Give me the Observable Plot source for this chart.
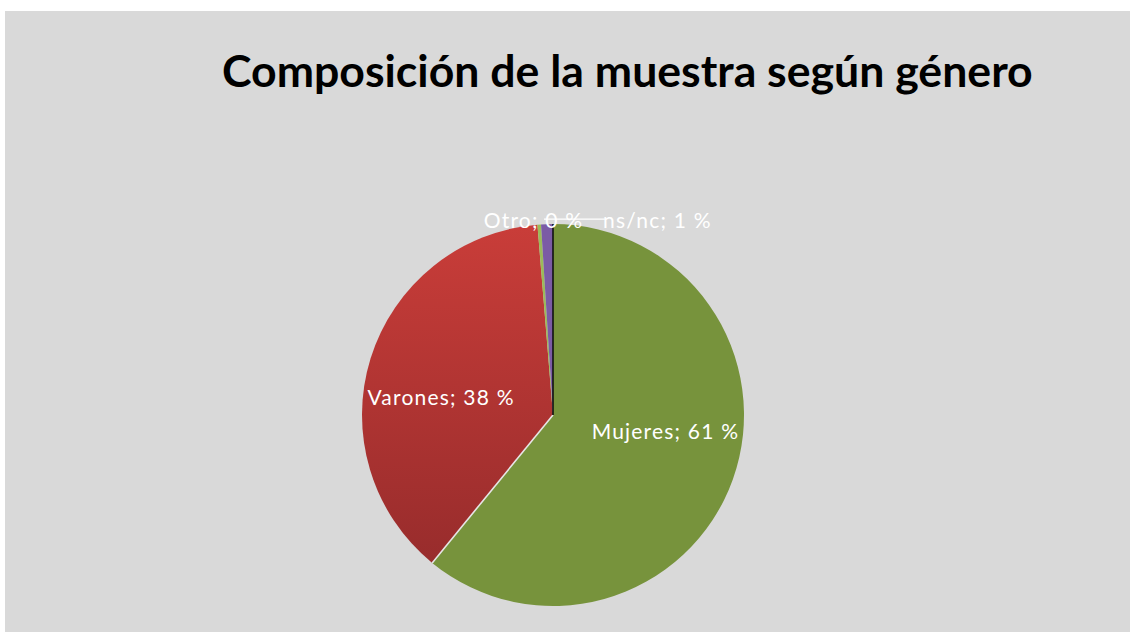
<!DOCTYPE html>
<html>
<head>
<meta charset="utf-8">
<script src="https://cdn.jsdelivr.net/npm/d3@7"></script>
<script src="https://cdn.jsdelivr.net/npm/@observablehq/plot@0.6"></script>
<style>
  html, body { margin: 0; padding: 0; background: #ffffff; }
  #frame { position: absolute; left: 5px; top: 11px; width: 1125px; height: 621px; background: #d9d9d9; overflow: hidden; }
  #title { position: absolute; left: 0; top: 0; width: 1125px; text-align: left; padding-left: 217px; box-sizing: border-box;
           font-family: Lato, "Open Sans", sans-serif; font-weight: bold; font-size: 44.6px; line-height: 1; color: #000;
           margin-top: 37px; white-space: nowrap; }
  #chart { position: absolute; left: 0; top: 0; }
</style>
</head>
<body>
<div id="frame">
  <div id="chart"></div>
  <div id="title">Composición de la muestra según género</div>
</div>
<script>
// Data
const categories = ["Mujeres", "Varones", "Otro", "ns/nc"];
const values = [60.9, 37.8, 0.3, 1.0];
const labelTexts = ["Mujeres; 61 %", "Varones; 38 %", "Otro; 0 %", "ns/nc; 1 %"];
const colors = ["#77933c", "url(#redgrad)", "#9bbb59", "#7b5ba5"];
// label placement: polar radius (fraction of pie radius) and pixel nudges
const labelRadius = [0.6, 0.6, 1.02, 1.02];
const labelNudge = [[4, -22], [-3, 17], [-6, 0], [110, 0]];

const table = categories.map((c, i) => ({category: c, value: values[i], label: labelTexts[i], color: colors[i]}));
const arcs = d3.pie().sort(null).value(d => d.value)(table);
arcs.forEach((a, i) => {
  const mid = (a.startAngle + a.endAngle) / 2;
  a.lx = Math.sin(mid) * labelRadius[i];
  a.ly = Math.cos(mid) * labelRadius[i];
  a.dx = labelNudge[i][0];
  a.dy = labelNudge[i][1];
});

function pieMark(index, scales) {
  const cx = scales.x(0), cy = scales.y(0), r = scales.x(1) - scales.x(0);
  const g = d3.create("svg:g");
  const defs = g.append("defs");
  const grad = defs.append("linearGradient").attr("id", "redgrad")
    .attr("x1", 0).attr("y1", 0).attr("x2", 0).attr("y2", 1);
  grad.append("stop").attr("offset", "0%").attr("stop-color", "#c93d39");
  grad.append("stop").attr("offset", "100%").attr("stop-color", "#982c2c");
  const arc = d3.arc().innerRadius(0).outerRadius(r);
  const gg = g.append("g").attr("transform", `translate(${cx},${cy})`);
  gg.selectAll("path").data(arcs).join("path")
    .attr("d", arc)
    .attr("fill", d => d.data.color);
  // radial separators
  const edge = (ang, color, w) => gg.append("line")
    .attr("x1", 0).attr("y1", 0)
    .attr("x2", Math.sin(ang) * r).attr("y2", -Math.cos(ang) * r)
    .attr("stroke", color).attr("stroke-width", w);
  edge(arcs[0].endAngle, "#e6e6e6", 1.6);   // Mujeres | Varones
  edge(arcs[3].endAngle, "#111111", 1.6);   // ns/nc | Mujeres
  // leader line for ns/nc label
  const a = arcs[3];
  const mid = (a.startAngle + a.endAngle) / 2;
  const px = Math.sin(mid) * r, py = -Math.cos(mid) * r;
  gg.append("line")
    .attr("x1", px - 3).attr("y1", py - 5)
    .attr("x2", scales.x(a.lx) - cx + a.dx - 52).attr("y2", py - 5)
    .attr("stroke", "#fff").attr("stroke-width", 1.3);
  return g.node();
}

const plot = Plot.plot({
  width: 1125,
  height: 621,
  margin: 0,
  x: {type: "linear", domain: [-1, 1], range: [357, 739], axis: null},
  y: {type: "linear", domain: [-1, 1], range: [595, 213], axis: null},
  style: {background: "transparent", overflow: "visible"},
  marks: [
    pieMark,
    Plot.text(arcs, {
      x: "lx", y: "ly",
      text: d => d.data.label,
      fill: "#ffffff",
      fontSize: 21,
      fontFamily: "Lato, 'Open Sans', sans-serif",
      textAnchor: "middle"
    })
  ]
});
// per-datum nudges are not channels in Plot, so apply them after rendering
d3.select(plot).selectAll("g[aria-label=text] text").each(function(d, i) {
  const t = d3.select(this);
  const tr = t.attr("transform") || "";
  t.attr("transform", tr + ` translate(${arcs[i].dx},${arcs[i].dy})`)
   .style("letter-spacing", "1.2px");
});
document.getElementById("chart").appendChild(plot);
</script>
</body>
</html>
